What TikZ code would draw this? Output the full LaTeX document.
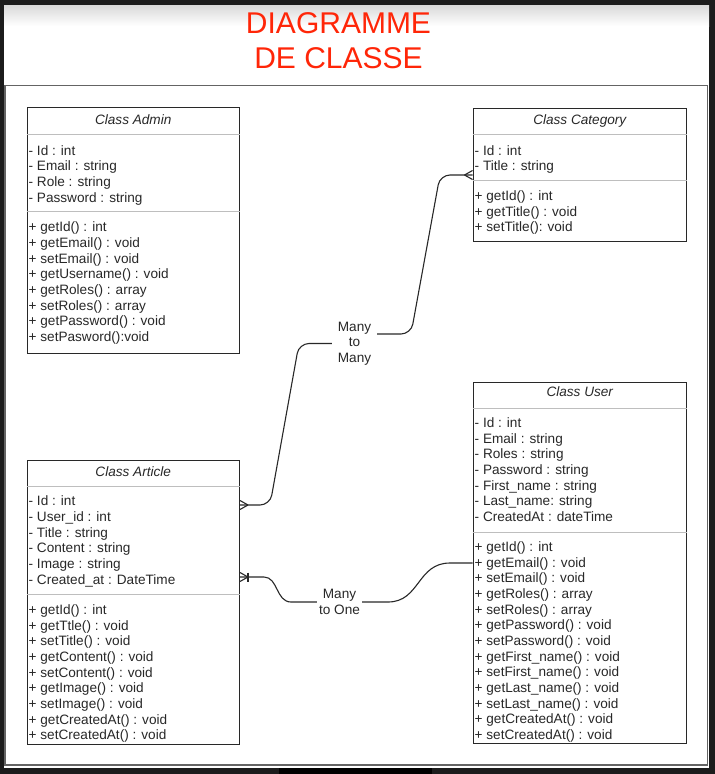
\documentclass[tikz,border=0pt]{standalone}
\usepackage{fontspec}
\setmainfont{Liberation Sans}
\definecolor{titlered}{RGB}{255,38,8}
\definecolor{darkbg}{RGB}{28,28,28}
\definecolor{ink}{RGB}{40,40,40}
\definecolor{sepgray}{RGB}{190,190,190}
\definecolor{framegray}{RGB}{100,100,100}
\newcommand\rowfont{\fontsize{13.6}{15.67}\selectfont}

\begin{document}
\begin{tikzpicture}[x=1pt,y=-1pt,
  classbox/.style={draw=ink,line width=1pt,fill=white,inner sep=0pt,anchor=north west},
  ctitle/.style={font=\rowfont\itshape,text=ink,text height=9.5pt,text depth=0pt,inner sep=0pt},
  rows/.style={font=\rowfont,text=ink,align=left,inner sep=0pt,anchor=north west},
  sepline/.style={draw=sepgray,line width=1pt},
  edge/.style={draw=ink,line width=1.1pt},
  rel/.style={font=\rowfont,text=ink,align=center,inner sep=0pt,minimum width=45pt}]
\fill[darkbg] (0,0) rectangle (715,774);
\fill[white] (4,5) rectangle (709,768);
\shade[top color=black!15,bottom color=white] (4,5) rectangle (709,26);
\fill[black] (279,768) rectangle (432,774);
\draw[framegray,line width=1.4pt] (5,85.5) rectangle (707.5,765);
\node[font=\fontsize{30}{35.5}\selectfont,text=titlered,align=center,inner sep=0pt] (T) at (338.5,40.5) {DIAGRAMME\\DE CLASSE};

\node[classbox,minimum width=212.5pt,minimum height=246pt] (Admin) at (26.5,107) {};
\node[ctitle] (AdminT) at (Admin.north |- 0,120) {Class Admin};
\draw[sepline] (Admin.west |- 0,134) -- (Admin.east |- 0,134);
\draw[sepline] (Admin.west |- 0,211.7) -- (Admin.east |- 0,211.7);
\node[rows] (AdminA) at (28.5,145) {- Id : int\\- Email : string\\- Role : string\\- Password : string};
\node[rows] (AdminM) at (28.5,221.7) {+ getId() : int\\+ getEmail() : void\\+ setEmail() : void\\+ getUsername() : void\\+ getRoles() : array\\+ setRoles() : array\\+ getPassword() : void\\+ setPasword():void};

\node[classbox,minimum width=213.5pt,minimum height=133.5pt] (Cat) at (472.5,107.5) {};
\node[ctitle] (CatT) at (Cat.north |- 0,120) {Class Category};
\draw[sepline] (Cat.west |- 0,134.3) -- (Cat.east |- 0,134.3);
\draw[sepline] (Cat.west |- 0,180.3) -- (Cat.east |- 0,180.3);
\node[rows] (CatA) at (474.5,145) {- Id : int\\- Title : string};
\node[rows] (CatM) at (474.5,190.3) {+ getId() : int\\+ getTitle() : void\\+ setTitle(): void};

\node[classbox,minimum width=212.5pt,minimum height=284pt] (Art) at (26.5,459.5) {};
\node[ctitle] (ArtT) at (Art.north |- 0,471.5) {Class Article};
\draw[sepline] (Art.west |- 0,486) -- (Art.east |- 0,486);
\draw[sepline] (Art.west |- 0,594) -- (Art.east |- 0,594);
\node[rows] (ArtA) at (28.5,495.7) {- Id : int\\- User\_id : int\\- Title : string\\- Content : string\\- Image : string\\- Created\_at : DateTime};
\node[rows] (ArtM) at (28.5,604.3) {+ getId() : int\\+ getTtle() : void\\+ setTitle() : void\\+ getContent() : void\\+ setContent() : void\\+ getImage() : void\\+ setImage() : void\\+ getCreatedAt() : void\\+ setCreatedAt() : void};

\node[classbox,minimum width=213.5pt,minimum height=361.5pt] (User) at (472.5,381.5) {};
\node[ctitle] (UserT) at (User.north |- 0,392) {Class User};
\draw[sepline] (User.west |- 0,408) -- (User.east |- 0,408);
\draw[sepline] (User.west |- 0,532) -- (User.east |- 0,532);
\node[rows] (UserA) at (474.5,417.5) {- Id : int\\- Email : string\\- Roles : string\\- Password : string\\- First\_name : string\\- Last\_name: string\\- CreatedAt : dateTime};
\node[rows] (UserM) at (474.5,541.5) {+ getId() : int\\+ getEmail() : void\\+ setEmail() : void\\+ getRoles() : array\\+ setRoles() : array\\+ getPassword() : void\\+ setPassword() : void\\+ getFirst\_name() : void\\+ setFirst\_name() : void\\+ getLast\_name() : void\\+ setLast\_name() : void\\+ getCreatedAt() : void\\+ setCreatedAt() : void};

\coordinate (ArtC) at (Art.east |- 0,505);
\coordinate (CatA) at (Cat.west |- 0,175);
\coordinate (ArtU) at (Art.east |- 0,577);
\coordinate (UserA) at (User.west |- 0,563);
\node[rel] (M2M) at (354.5,343.5) {Many\\to\\Many};
\node[rel] (M2O) at (339.5,602) {Many\\to One};
\draw[edge,rounded corners=10pt] (ArtC) -- (270,505) -- (299,343.5) -- (M2M.west);
\draw[edge,rounded corners=10pt] ([yshift=9.5pt]M2M.east) -- (411,334) -- (440,175) -- (CatA);
\draw[edge] (ArtU) -- (264,577) .. controls (278,577) and (276,602) .. (291,602) -- (M2O.west);
\draw[edge] (M2O.east) -- (388,602) .. controls (420,602) and (417,563) .. (450,563) -- (UserA);
\draw[edge] ([xshift=8pt]ArtC) -- ([yshift=4.5pt]ArtC) ([xshift=8pt]ArtC) -- ([yshift=-4.5pt]ArtC);
\draw[edge] ([xshift=-8pt]CatA) -- ([yshift=4.5pt]CatA) ([xshift=-8pt]CatA) -- ([yshift=-4.5pt]CatA);
\draw[edge] ([xshift=8pt]ArtU) -- ([yshift=4.5pt]ArtU) ([xshift=8pt]ArtU) -- ([yshift=-4.5pt]ArtU);
\draw[edge] ([xshift=8pt,yshift=4.5pt]ArtU) -- ([xshift=8pt,yshift=-4.5pt]ArtU);
\end{tikzpicture}
\end{document}
